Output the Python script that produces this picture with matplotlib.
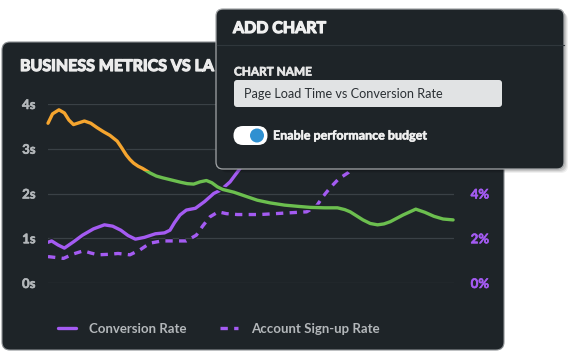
import matplotlib
matplotlib.use("Agg")
import matplotlib.pyplot as plt
from matplotlib.patches import FancyBboxPatch, Rectangle, Circle
import matplotlib.patheffects as pe

plt.rcParams['font.family'] = ['Lato', 'DejaVu Sans']

# --- data (x = position in days from the left edge) ---
x_load = [0.0, 0.25, 0.6, 0.9, 1.15, 1.4, 1.7, 2.0, 2.35, 2.7, 3.05, 3.4, 3.8, 4.05,
          4.3, 4.5, 4.7, 4.95, 5.2, 5.6, 5.95, 6.3, 6.9, 7.3, 7.65, 8.0, 8.35, 8.7,
          9.0, 9.3, 9.6, 10.2, 10.85, 11.5, 12.2, 13.0, 13.8, 14.4, 15.2, 15.9,
          16.3, 16.6, 16.95, 17.3, 17.7, 18.1, 18.45, 18.8, 19.5, 20.2, 20.7, 21.2,
          21.7, 22.25]
load_time = [3.57, 3.78, 3.87, 3.80, 3.64, 3.54, 3.58, 3.62, 3.57, 3.47, 3.38, 3.30,
             3.17, 3.02, 2.86, 2.76, 2.68, 2.61, 2.56, 2.46, 2.39, 2.35, 2.29, 2.25,
             2.22, 2.21, 2.26, 2.29, 2.24, 2.15, 2.09, 2.03, 1.94, 1.85, 1.79, 1.74,
             1.71, 1.69, 1.68, 1.68, 1.64, 1.59, 1.50, 1.41, 1.33, 1.30, 1.32, 1.37,
             1.52, 1.65, 1.58, 1.49, 1.43, 1.41]

x_conv = [0.0, 0.2, 0.55, 0.9, 1.4, 1.9, 2.5, 3.1, 3.55, 4.0, 4.4, 4.8, 5.3, 5.9,
          6.4, 6.7, 6.95, 7.25, 7.6, 8.1, 8.6, 9.1, 9.5, 10.0, 10.55, 11.1, 11.6,
          12.2, 13.0, 15.0, 18.0, 22.25]
conversion = [1.82, 1.88, 1.70, 1.56, 1.84, 2.14, 2.42, 2.60, 2.54, 2.36, 2.12, 1.96,
              2.04, 2.20, 2.24, 2.36, 2.70, 3.04, 3.26, 3.34, 3.64, 4.00, 4.16, 4.52,
              5.12, 6.00, 6.80, 7.40, 7.70, 7.80, 7.60, 7.50]

x_signup = [0.0, 0.85, 1.4, 1.95, 2.35, 2.75, 3.3, 3.85, 4.5, 5.05, 5.6, 6.25, 7.6,
            8.15, 8.5, 8.9, 9.35, 9.8, 10.4, 11.65, 12.9, 14.2, 14.75, 15.1, 15.5,
            15.95, 16.5, 17.2, 18.0, 19.0, 20.5, 22.25]
signup = [1.18, 1.10, 1.30, 1.44, 1.34, 1.26, 1.28, 1.32, 1.26, 1.48, 1.78, 1.88, 1.88,
          2.14, 2.55, 2.96, 3.18, 3.10, 3.06, 3.06, 3.12, 3.18, 3.44, 3.86, 4.26,
          4.64, 4.94, 5.70, 6.40, 6.90, 7.10, 7.20]

budget = 2.5
tick_days = [0.77, 5.93, 10.82, 15.88, 20.82]
tick_labels = ["1 Jul", "10 Jul", "15 Jul", "20 Jul", "25 Jul"]

BG = '#1e2428'
ORANGE = '#f5a52f'
GREEN = '#6cbf4f'
PURPLE = '#a45bf2'
GRID = '#3a4146'
TICK = '#b3b7ba'


def heavy(color, w=0.7):
    # thicken the glyphs a little, the original font is heavier than Lato Bold
    return [pe.withStroke(linewidth=w, foreground=color)]


W, H = 575, 352
fig = plt.figure(figsize=(W / 100, H / 100), dpi=100, facecolor='white')

# background layer (chart card) in pixel coordinates
bg = fig.add_axes([0, 0, 1, 1], zorder=-5)
bg.set_xlim(0, W)
bg.set_ylim(H, 0)
bg.axis('off')
bg.add_patch(FancyBboxPatch((2, 42), 502, 308, boxstyle="round,pad=0,rounding_size=8",
                            facecolor=BG, edgecolor='#8d9194', lw=0.8))
bg.text(20, 67, "BUSINESS METRICS VS LA", color='#ececec', fontsize=11.5,
        fontweight='bold', va='center', ha='left', path_effects=heavy('#ececec', 0.9))

# chart
ax2 = fig.add_axes([48 / W, 1 - 283 / H, (454 - 48) / W, (283 - 104) / H])
ax = ax2.twinx()
ax.set_zorder(ax2.get_zorder() + 1)
ax.patch.set_visible(False)
ax2.patch.set_visible(False)

outline = [pe.Stroke(linewidth=4.2, foreground=BG), pe.Normal()]

ax2.plot(x_conv, conversion, color=PURPLE, lw=2.4, solid_capstyle='round',
         solid_joinstyle='round', path_effects=outline, label="Conversion Rate")
ax2.plot(x_signup, signup, color=PURPLE, lw=2.4, dashes=(2.2, 1.9),
         dash_capstyle='butt', path_effects=outline, label="Account Sign-up Rate")

l_orange, = ax.plot(x_load, load_time, color=ORANGE, lw=2.4, solid_capstyle='round',
                    solid_joinstyle='round', path_effects=outline)
l_green, = ax.plot(x_load, load_time, color=GREEN, lw=2.4, solid_capstyle='round',
                   solid_joinstyle='round', path_effects=outline)
l_orange.set_clip_path(Rectangle((-5, budget), 40, 10, transform=ax.transData))
l_green.set_clip_path(Rectangle((-5, -5), 40, 5 + budget, transform=ax.transData))

ax.set_xlim(0, 22.3)
ax.set_ylim(0, 4)
ax2.set_ylim(0, 8)

# seconds on the left, percent on the right
ax.yaxis.tick_left()
ax2.yaxis.tick_right()
ax.set_yticks([0, 1, 2, 3, 4])
ax.set_yticklabels(["0s", "1s", "2s", "3s", "4s"])
ax2.set_yticks([0, 2, 4, 6, 8])
ax2.set_yticklabels(["0%", "2%", "4%", "6%", "8%"])
ax2.set_xticks(tick_days)
ax2.set_xticklabels(tick_labels)
ax.set_xticks([])

ax2.grid(axis='y', color=GRID, lw=0.9)
ax2.grid(axis='x', visible=False)
for a in (ax, ax2):
    for s in a.spines.values():
        s.set_visible(False)
ax.tick_params(axis='y', length=0, pad=9, labelsize=9.5, labelcolor=TICK)
ax2.tick_params(axis='y', length=0, pad=12, labelsize=9.5, labelcolor=PURPLE)
ax2.tick_params(axis='x', length=0, pad=8, labelsize=9.5, labelcolor=TICK)
for lab in ax.get_yticklabels() + ax2.get_xticklabels():
    lab.set_fontweight('bold')
    lab.set_path_effects(heavy(TICK, 0.4))
for lab in ax2.get_yticklabels():
    lab.set_fontweight('bold')
    lab.set_path_effects(heavy(PURPLE, 0.4))

leg = ax2.legend(loc='center', bbox_to_anchor=(219 / W, 1 - 329 / H),
                 bbox_transform=fig.transFigure, ncol=2, frameon=False,
                 fontsize=9.5, labelcolor=TICK, handlelength=1.35, handletextpad=1.0,
                 columnspacing=2.5, borderpad=0)
for t in leg.get_texts():
    t.set_fontweight('bold')

# modal layer on top
top = fig.add_axes([0, 0, 1, 1], zorder=10)
top.set_xlim(0, W)
top.set_ylim(H, 0)
top.axis('off')
top.patch.set_visible(False)
for off, a in [(4, 0.06), (3, 0.08), (2, 0.1)]:
    top.add_patch(FancyBboxPatch((217 + off, 9 + off), 347, 160,
                                 boxstyle="round,pad=0,rounding_size=7",
                                 facecolor='black', edgecolor='none', alpha=a))
top.add_patch(FancyBboxPatch((216, 9), 348, 160, boxstyle="round,pad=0,rounding_size=7",
                             facecolor=BG, edgecolor='#a3a6a8', lw=0.9))
top.plot([216.5, 563.5], [45, 45], color='#30373c', lw=0.8)
top.text(233, 29, "ADD CHART", color='#f0f0f0', fontsize=11.5, fontweight='bold',
         va='center', ha='left', path_effects=heavy('#f0f0f0', 0.9))
top.text(234, 72, "CHART NAME", color='#e6e6e6', fontsize=8.5, fontweight='bold',
         va='center', ha='left', path_effects=heavy('#e6e6e6', 0.5))
top.add_patch(FancyBboxPatch((234, 80), 268, 27, boxstyle="round,pad=0,rounding_size=3",
                             facecolor='#e1e3e4', edgecolor='none'))
top.text(244, 93.5, "Page Load Time vs Conversion Rate", color='#2b3034', fontsize=9.1,
         va='center', ha='left')
top.add_patch(FancyBboxPatch((233.5, 126), 34, 19, boxstyle="round,pad=0,rounding_size=9.5",
                             facecolor='white', edgecolor='none'))
top.add_patch(Circle((257, 135.5), 7, facecolor='#2f90d1', edgecolor='none'))
top.text(273, 135.5, "Enable performance budget", color='#f0f0f0', fontsize=9,
         fontweight='bold', va='center', ha='left', path_effects=heavy('#f0f0f0', 0.4))

fig.savefig("out.png", dpi=100, facecolor='white')
